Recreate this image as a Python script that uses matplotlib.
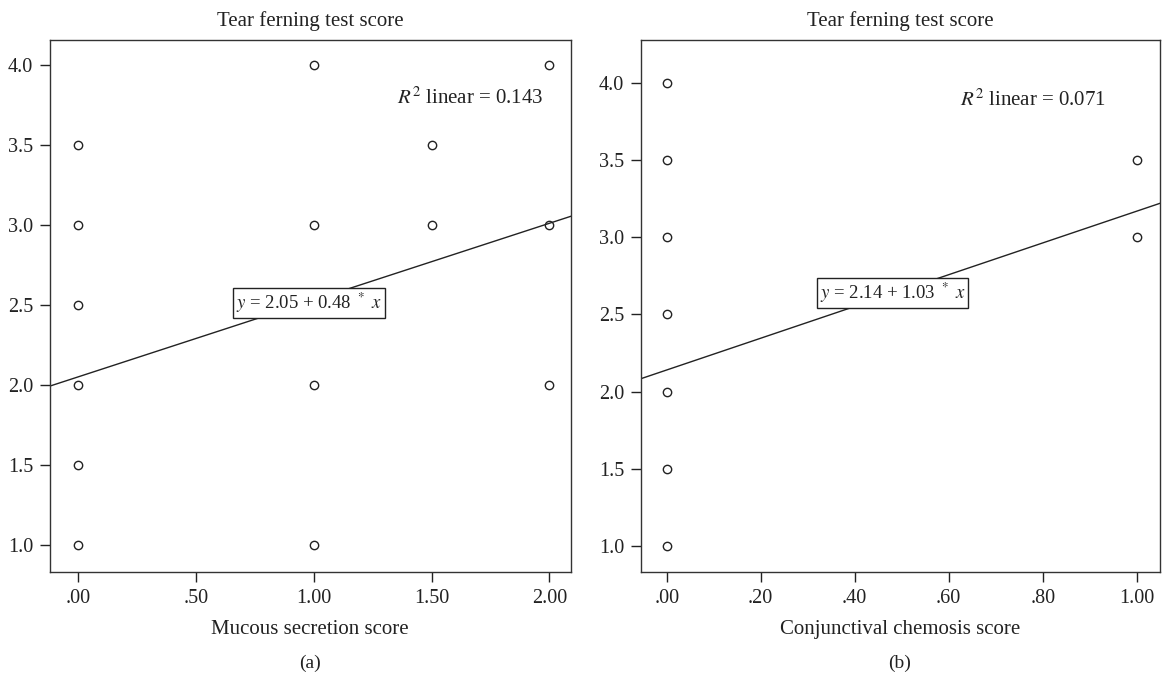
import matplotlib
matplotlib.use("Agg")
import numpy as np
from matplotlib import pyplot as plt

# ---------- Data ----------
# (a) mucous secretion vs tear ferning
mucous_x = [0, 0, 0, 0, 0, 0, 1, 1, 1, 1, 1.5, 1.5, 2, 2, 2]
mucous_y = [3.5, 3.0, 2.5, 2.0, 1.5, 1.0, 4.0, 3.0, 2.0, 1.0, 3.5, 3.0, 4.0, 3.0, 2.0]
mucous_fit = (2.05, 0.48)
mucous_r2 = 0.143
mucous_ticks = [0, 0.5, 1.0, 1.5, 2.0]
mucous_ticklabels = [".00", ".50", "1.00", "1.50", "2.00"]

# (b) conjunctival chemosis vs tear ferning
chemosis_x = [0, 0, 0, 0, 0, 0, 0, 1, 1]
chemosis_y = [4.0, 3.5, 3.0, 2.5, 2.0, 1.5, 1.0, 3.5, 3.0]
chemosis_fit = (2.14, 1.03)
chemosis_r2 = 0.071
chemosis_ticks = [0, 0.2, 0.4, 0.6, 0.8, 1.0]
chemosis_ticklabels = [".00", ".20", ".40", ".60", ".80", "1.00"]

y_ticks = [1.0, 1.5, 2.0, 2.5, 3.0, 3.5, 4.0]

plt.rcParams["font.family"] = ["Liberation Serif", "DejaVu Serif"]
plt.rcParams["mathtext.fontset"] = "stix"


def panel(ax, x, y, fit, r2, ticks, ticklabels, xlim, ylim, xlabel, r2_pos, eq_pos):
    ax.set_xlim(xlim)
    ax.set_ylim(ylim)
    ax.plot(x, y, linestyle="none", marker="o", markersize=6,
            markerfacecolor="white", markeredgecolor="#222222", markeredgewidth=1.0)

    # regression line across the whole axis
    a, b = fit
    xs = np.array(xlim)
    ax.plot(xs, a + b * xs, color="#222222", linewidth=1.0)

    ax.set_xticks(ticks)
    ax.set_xticklabels(ticklabels)
    ax.set_yticks(y_ticks)
    ax.set_yticklabels([f"{v:.1f}" for v in y_ticks])
    ax.tick_params(labelsize=14.5, length=7, width=1.0, colors="#222222", pad=5)
    for s in ax.spines.values():
        s.set_linewidth(1.0)
        s.set_color("#333333")

    ax.set_title("Tear ferning test score", fontsize=15, pad=10, color="#222222")
    ax.set_xlabel(xlabel, fontsize=15, labelpad=9, color="#222222")

    ax.text(r2_pos[0], r2_pos[1], f"$R^2$ linear = {r2:.3f}", fontsize=15,
            ha="left", va="center", color="#222222")
    ax.text(eq_pos[0], eq_pos[1], f"$y$ = {a:.2f} + {b:.2f} $^*$ $x$", fontsize=13.5,
            ha="center", va="center", color="#222222",
            bbox=dict(boxstyle="square,pad=0.15", facecolor="white", edgecolor="#222222", linewidth=1.0))


fig = plt.figure(figsize=(11.62, 6.79), dpi=100)
ax1 = fig.add_axes([0.043, 0.1576, 0.448, 0.7835])
ax2 = fig.add_axes([0.5515, 0.1576, 0.447, 0.7835])

panel(ax1, mucous_x, mucous_y, mucous_fit, mucous_r2, mucous_ticks, mucous_ticklabels,
      (-0.12, 2.09), (0.83, 4.156), "Mucous secretion score", (1.355, 3.79), (0.98, 2.51))
panel(ax2, chemosis_x, chemosis_y, chemosis_fit, chemosis_r2, chemosis_ticks, chemosis_ticklabels,
      (-0.055, 1.05), (0.83, 4.28), "Conjunctival chemosis score", (0.625, 3.89), (0.48, 2.64))

fig.text(0.267, 0.0236, "(a)", ha="center", va="center", fontsize=14, color="#222222")
fig.text(0.7745, 0.0236, "(b)", ha="center", va="center", fontsize=14, color="#222222")

fig.savefig("out.png", dpi=100)
